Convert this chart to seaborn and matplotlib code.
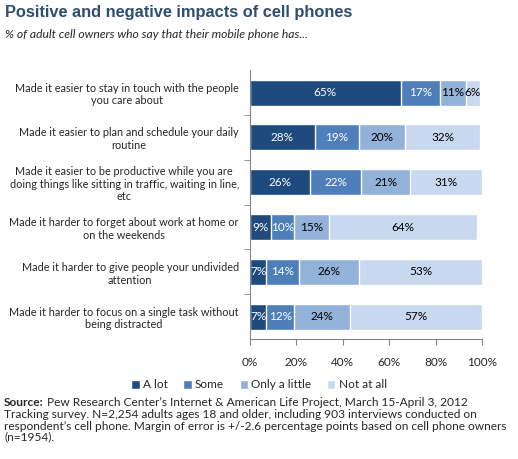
import matplotlib
matplotlib.use("Agg")
import matplotlib.pyplot as plt
import seaborn as sns
import pandas as pd
import numpy as np

items = [
    "Made it easier to stay in touch with the people\nyou care about",
    "Made it easier to plan and schedule your daily\nroutine",
    "Made it easier to be productive while you are\ndoing things like sitting in traffic, waiting in line,\netc",
    "Made it harder to forget about work at home or\non the weekends",
    "Made it harder to give people your undivided\nattention",
    "Made it harder to focus on a single task without\nbeing distracted",
]
levels = ["A lot", "Some", "Only a little", "Not at all"]
a_lot = [65, 28, 26, 9, 7, 7]
some = [17, 19, 22, 10, 14, 12]
only_little = [11, 20, 21, 15, 26, 24]
not_at_all = [6, 32, 31, 64, 53, 57]
colors = ["#1F4A7D", "#4F7FBB", "#93B2DA", "#C7D8EF"]
text_colors = ["white", "white", "black", "black"]

sns.set_style("white")
plt.rcParams["font.family"] = ["Lato", "DejaVu Sans"]

df = pd.DataFrame({"item": items, "A lot": a_lot, "Some": some,
                   "Only a little": only_little, "Not at all": not_at_all})
cum = df[levels].cumsum(axis=1)

fig = plt.figure(figsize=(5.18, 4.59), dpi=100)
ax = fig.add_axes([0.4826, 0.2614, 0.448, 0.5855])

# draw cumulative totals back to front so each layer shows as a stacked segment
for lvl, col in reversed(list(zip(levels, colors))):
    sns.barplot(x=cum[lvl], y=df["item"], color=col, orient="h", width=0.58,
                ax=ax, saturation=1, label=lvl)

for i in range(len(items)):
    start = 0
    for lvl, tc in zip(levels, text_colors):
        v = df[lvl][i]
        ax.text(start + v / 2, i, f"{v}%", ha="center", va="center",
                color=tc, fontsize=8.5)
        start += v

ax.set_xlim(0, 100)
ax.set_ylim(5.5, -0.5)
ax.set_xticks(np.arange(0, 101, 20))
ax.set_xticklabels([f"{t}%" for t in range(0, 101, 20)], fontsize=8.5)
ax.set_yticks(np.arange(len(items)))
ax.set_yticklabels(items, fontsize=7.8)
for t in ax.get_yticklabels():
    t.set_multialignment("center")
ax.set_yticks(np.arange(len(items) - 1) + 0.5, minor=True)
ax.tick_params(axis="y", which="major", length=0, pad=8)
ax.tick_params(axis="y", which="minor", length=4, color="#868686", direction="out", left=True)
ax.tick_params(axis="x", length=4, color="#868686", direction="out", bottom=True, pad=9)
ax.set_xlabel("")
ax.set_ylabel("")
for s in ["top", "right"]:
    ax.spines[s].set_visible(False)
for s in ["left", "bottom"]:
    ax.spines[s].set_color("#868686")
    ax.spines[s].set_linewidth(0.8)

handles, labels = ax.get_legend_handles_labels()
order = [labels.index(l) for l in levels]
ax.legend([handles[k] for k in order], levels, loc="center",
          bbox_to_anchor=(0.5, 1 - 385 / 459), bbox_transform=fig.transFigure,
          ncol=4, frameon=False, fontsize=8.5, handlelength=0.7, handleheight=0.7,
          handletextpad=0.3, columnspacing=1.3)

fig.text(0.01, 1 - 13 / 459, "Positive and negative impacts of cell phones",
         fontsize=11.8, fontweight="bold", color="#2F4E70", va="center",
         family=["Liberation Sans", "DejaVu Sans"])
fig.text(0.01, 1 - 34 / 459, "% of adult cell owners who say that their mobile phone has...",
         fontsize=8.7, style="italic", va="center")

src_y = 1 - 397 / 459
src = fig.text(0.008, src_y, "Source:", fontsize=8.6, fontweight="bold", va="top")
fig.canvas.draw()
bb = src.get_window_extent().transformed(fig.transFigure.inverted())
fig.text(bb.x1 + 0.006, src_y,
         "Pew Research Center\u2019s Internet & American Life Project, March 15-April 3, 2012",
         fontsize=8.6, va="top")
fig.text(0.008, src_y - 12.4 / 459,
         "Tracking survey. N=2,254 adults ages 18 and older, including 903 interviews conducted on\n"
         "respondent\u2019s cell phone. Margin of error is +/-2.6 percentage points based on cell phone owners\n"
         "(n=1954).",
         fontsize=8.6, va="top", linespacing=1.02)

fig.savefig("out.png", dpi=100)
